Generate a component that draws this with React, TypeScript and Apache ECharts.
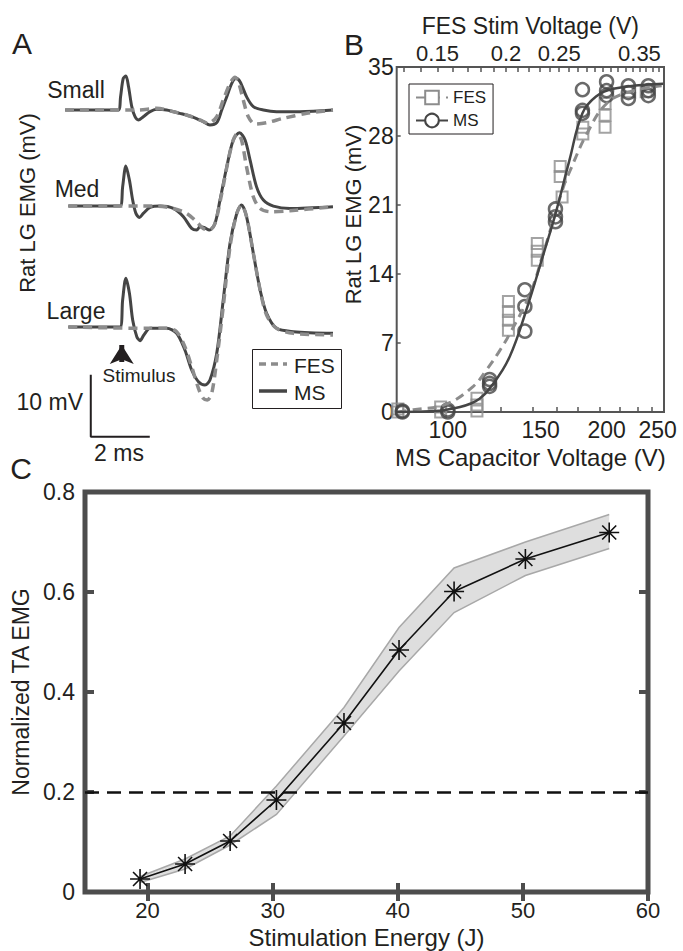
import React, { useEffect, useRef } from 'react';
import * as echarts from 'echarts';

const FONT = '"Liberation Sans", Arial, sans-serif';
const INK = '#231f20';
const MS_COLOR = '#454545';
const FES_COLOR = '#8c8c8c';
const FRAME_B = '#555555';
const FRAME_C = '#4d4d4d';

// ---------- Panel A : EMG traces, [time (ms), voltage (mV)] ----------
const SMALL_MS: number[][] = [[-2.03,0],[-0.23,0],[-0.15,2.15],[-0.06,5.1],[0.03,5.48],[0.12,3.76],[0.23,0.54],[0.34,-1.08],[0.45,-1.61],[0.62,-1.08],[0.85,-0.27],[1.07,0.11],[1.41,0],[1.86,-0.54],[2.32,-1.18],[2.65,-1.88],[2.88,-2.42],[3.11,-2.04],[3.28,0],[3.45,2.15],[3.62,4.3],[3.76,5.11],[3.9,4.57],[4.12,2.15],[4.35,0.54],[4.69,0],[5.14,-0.27],[5.93,-0.27],[7.05,0]];
const SMALL_FES: number[][] = [[-2.03,0],[0.45,0],[1.07,0.27],[1.64,-0.27],[2.09,-0.81],[2.54,-1.61],[2.82,-2.15],[3.11,-1.08],[3.33,1.61],[3.56,4.3],[3.73,5.27],[3.84,4.57],[4.01,1.61],[4.18,-1.08],[4.41,-2.26],[4.8,-2.04],[5.37,-1.34],[6.16,-0.54],[7.05,0]];
const MED_MS: number[][] = [[-1.92,0],[-0.17,0],[-0.08,3.1],[0.03,6.45],[0.15,4.19],[0.26,0.97],[0.37,-1.18],[0.49,-1.83],[0.62,-1.18],[0.85,-0.22],[1.19,0],[1.64,-0.38],[1.98,-1.72],[2.26,-3.6],[2.43,-3.87],[2.54,-3.33],[2.68,-3.44],[2.86,-3.87],[3.05,-2.8],[3.22,0.97],[3.45,6.34],[3.67,10.65],[3.88,11.83],[4.07,10.65],[4.24,7.42],[4.46,3.1],[4.69,0.97],[5.03,0],[5.59,-0.38],[7.05,-0.1]];
const MED_FES: number[][] = [[-1.92,0],[0.62,0],[1.07,0],[1.64,-0.38],[2.09,-1.18],[2.43,-2.53],[2.65,-3.6],[2.86,-3.87],[3.05,-2.8],[3.28,2.04],[3.5,7.42],[3.67,10.65],[3.81,11.72],[3.95,10.65],[4.12,6.34],[4.35,1.5],[4.58,-0.38],[4.92,-0.91],[5.59,-0.75],[7.05,-0.1]];
const LARGE_MS: number[][] = [[-1.92,0],[-0.17,0],[-0.08,4.35],[0.03,7.85],[0.15,5.43],[0.26,1.13],[0.4,-1.56],[0.51,-2.2],[0.64,-1.29],[0.85,-0.22],[1.41,-0.22],[1.75,-1.02],[2.03,-3.71],[2.26,-6.94],[2.49,-8.82],[2.71,-9.35],[2.88,-8.55],[3.11,-4.25],[3.33,4.35],[3.56,13.5],[3.79,18.34],[3.95,19.68],[4.12,17.8],[4.35,11.9],[4.58,5.97],[4.8,2.2],[5.14,-0.22],[5.71,-0.75],[7.05,-1.02]];
const LARGE_FES: number[][] = [[-1.92,0],[0.85,-0.22],[1.41,-0.22],[1.75,-0.75],[2.03,-3.17],[2.26,-6.4],[2.49,-9.89],[2.65,-11.5],[2.79,-11.77],[2.94,-10.7],[3.11,-5.32],[3.33,3.27],[3.56,12.95],[3.79,18.34],[3.95,19.68],[4.12,17.8],[4.35,11.9],[4.58,5.97],[4.8,1.94],[5.14,-0.22],[5.71,-1.02],[7.05,-1.29]];
const TRACE_OFFSET_SMALL = 35;
const TRACE_OFFSET_MED = 19.5;
const TRACE_OFFSET_LARGE = 0;
const SCALE_BAR_MS = 2;
const SCALE_BAR_MV = 10;
const SCALE_BAR_ORIGIN = [-1.16, -17.7];
const STIMULUS_TIME = -0.11;
const ARROW_FROM_MV = -5.65;
const ARROW_TO_MV = -2.9;

// ---------- Panel B : recruitment curves ----------
const MS_VOLTAGE = [82, 82, 100, 100, 120, 120, 120, 140, 140, 140, 160, 160, 160, 180, 180, 180, 200, 200, 200, 220, 220, 220, 240, 240, 240];
const MS_EMG = [0, 0.1, 0, 0.2, 3.3, 2.6, 2.9, 12.4, 10.7, 8.2, 20.6, 19.3, 19.8, 32.7, 30.3, 30.6, 33.5, 32.6, 32.1, 33.1, 31.8, 32.4, 33.1, 32.1, 32.6];
const FES_VOLTAGE = [0.127, 0.127, 0.152, 0.152, 0.177, 0.177, 0.177, 0.202, 0.202, 0.202, 0.202, 0.228, 0.228, 0.228, 0.251, 0.251, 0.253, 0.276, 0.276, 0.303, 0.303, 0.303, 0.336, 0.36];
const FES_EMG = [0, 0.3, 0.5, 0, 1.4, 0.7, 0.1, 11.2, 10.2, 9.3, 8.3, 17.1, 16.3, 15.4, 24.9, 23.9, 21.8, 28.2, 28.9, 31.3, 30.1, 28.9, 32.5, 32.5];
const MS_FIT_VOLTAGE = [80, 90, 100, 113, 122, 131, 141, 152, 160, 170, 180, 191, 206, 256];
const MS_FIT_EMG = [0, 0.05, 0.25, 1.1, 2.9, 5.6, 10.4, 16.1, 20.1, 25.5, 30.3, 32, 32.8, 33.3];
const FES_FIT_VOLTAGE = [0.127, 0.1356, 0.1548, 0.1743, 0.1844, 0.1936, 0.2034, 0.2212, 0.2338, 0.2543, 0.2617, 0.2805, 0.305, 0.3364, 0.3842];
const FES_FIT_EMG = [0, 0.24, 0.74, 2.6, 4.3, 6.0, 8.0, 12.0, 16.1, 22.8, 24.5, 28.2, 31.3, 32.5, 33.1];
const MS_TICK_LABELS = [100, 150, 200, 250];
const MS_MINOR_TICKS = [126, 145, 161, 176, 194, 212, 229, 244];
const FES_TICK_LABELS = [0.15, 0.2, 0.25, 0.35];
const FES_MINOR_TICKS = [0.13, 0.14, 0.15, 0.16, 0.17, 0.18, 0.19, 0.2, 0.21, 0.22, 0.23, 0.24, 0.25, 0.26, 0.27, 0.28, 0.29, 0.3, 0.31, 0.32, 0.33, 0.34, 0.35, 0.36, 0.37, 0.38];
const MS_RANGE = [80, 257];
const FES_RANGE = [0.1264, 0.388];

// ---------- Panel C : normalized TA EMG ----------
const ENERGY = [19.4, 23.0, 26.6, 30.3, 35.7, 40.1, 44.5, 50.2, 56.9];
const TA_MEAN = [0.026, 0.056, 0.102, 0.184, 0.338, 0.484, 0.601, 0.666, 0.719];
const TA_UPPER = [0.031, 0.066, 0.112, 0.212, 0.369, 0.529, 0.648, 0.7, 0.755];
const TA_LOWER = [0.019, 0.046, 0.094, 0.155, 0.312, 0.442, 0.559, 0.633, 0.687];
const THRESHOLD = 0.2;
const ENERGY_TICKS = [20, 30, 40, 50, 60];

const txt = (size: number) => ({ fontFamily: FONT, fontSize: size, color: INK });
const shift = (arr: number[][], off: number) => arr.map(([t, v]) => [t, v + off]);
const zip = (a: number[], b: number[]) => a.map((x, i) => [x, b[i]]);
const logZip = (a: number[], b: number[]) => a.map((x, i) => [Math.log10(x), b[i]]);

const STAR = 'path://M10,0L10,20M0,10L20,10M3,3L17,17M3,17L17,3';

function gtext(text: string, x: number, y: number, size: number, align = 'center', rotation = 0) {
  return {
    type: 'text', x, y, rotation, silent: true,
    style: { text, fill: INK, font: `${size}px ${FONT}`, align, verticalAlign: 'middle', textAlign: align, textVerticalAlign: 'middle' },
  };
}

function buildOption() {
  const traceLine = (name: string, data: number[][], dashed: boolean) => ({
    type: 'line', name, xAxisIndex: 0, yAxisIndex: 0, data, symbol: 'none', smooth: 0.3, silent: true,
    lineStyle: dashed ? { color: FES_COLOR, width: 3.5, type: [9, 6] } : { color: MS_COLOR, width: 3 },
    z: dashed ? 3 : 2,
  });
  const [sx, sy] = SCALE_BAR_ORIGIN;
  return {
    animation: false,
    backgroundColor: '#fff',
    grid: [
      { left: 51.25, top: 17, width: 295, height: 434, outerBoundsMode: 'none' },
      { left: 396.7, top: 67, width: 267.3, height: 345, show: true, borderColor: FRAME_B, borderWidth: 2, outerBoundsMode: 'none' },
      { left: 85, top: 492, width: 563, height: 400, show: true, borderColor: FRAME_C, borderWidth: 5, outerBoundsMode: 'none' },
    ],
    xAxis: [
      { gridIndex: 0, type: 'value', min: -2.5, max: 7.5, show: false },
      {
        gridIndex: 1, type: 'value', position: 'bottom', min: Math.log10(MS_RANGE[0]), max: Math.log10(MS_RANGE[1]),
        axisLine: { show: false }, splitLine: { show: false },
        axisTick: { inside: true, length: 5, lineStyle: { color: FRAME_B, width: 1.5 }, customValues: MS_MINOR_TICKS.map((v) => Math.log10(v)) },
        axisLabel: { customValues: MS_TICK_LABELS.map((v) => Math.log10(v)), formatter: (v: number) => String(Math.round(Math.pow(10, v))), margin: 6, ...txt(23) },
        name: 'MS Capacitor Voltage (V)', nameLocation: 'middle', nameGap: 33, nameTextStyle: txt(24),
      },
      {
        gridIndex: 1, type: 'value', position: 'top', min: Math.log10(FES_RANGE[0]), max: Math.log10(FES_RANGE[1]),
        axisLine: { show: false }, splitLine: { show: false },
        axisTick: { inside: true, length: 5, lineStyle: { color: FRAME_B, width: 1.5 }, customValues: FES_MINOR_TICKS.map((v) => Math.log10(v)) },
        axisLabel: { customValues: FES_TICK_LABELS.map((v) => Math.log10(v)), formatter: (v: number) => String(Math.round(Math.pow(10, v) * 100) / 100), margin: 3, ...txt(22) },
        name: 'FES Stim Voltage (V)', nameLocation: 'middle', nameGap: 30, nameTextStyle: txt(23),
      },
      {
        gridIndex: 2, type: 'value', position: 'bottom', min: 15, max: 60,
        axisLine: { show: false }, splitLine: { show: false },
        axisTick: { inside: true, length: 9, lineStyle: { color: FRAME_C, width: 4 }, customValues: ENERGY_TICKS },
        axisLabel: { customValues: ENERGY_TICKS, margin: 7, ...txt(22) },
        name: 'Stimulation Energy (J)', nameLocation: 'middle', nameGap: 33, nameTextStyle: txt(24),
      },
      {
        gridIndex: 2, type: 'value', position: 'top', min: 15, max: 60,
        axisLine: { show: false }, splitLine: { show: false }, axisLabel: { show: false },
        axisTick: { inside: true, length: 9, lineStyle: { color: FRAME_C, width: 4 }, customValues: ENERGY_TICKS },
      },
    ],
    yAxis: [
      { gridIndex: 0, type: 'value', min: -20, max: 50, show: false },
      {
        gridIndex: 1, type: 'value', min: 0, max: 35, interval: 7,
        axisLine: { show: false }, splitLine: { show: false },
        axisTick: { inside: true, length: 4, lineStyle: { color: FRAME_B, width: 1.5 } },
        axisLabel: { margin: 3, ...txt(23) },
        name: 'Rat LG EMG (mV)', nameLocation: 'middle', nameGap: 19, nameTextStyle: { ...txt(22), padding: [0, 0, 0, 50] },
      },
      {
        gridIndex: 2, type: 'value', min: 0, max: 0.8, interval: 0.2,
        axisLine: { show: false }, splitLine: { show: false },
        axisTick: { inside: true, length: 9, lineStyle: { color: FRAME_C, width: 4 } },
        axisLabel: { margin: 10, ...txt(23) },
        name: 'Normalized TA EMG', nameLocation: 'middle', nameGap: 47, nameTextStyle: txt(23),
      },
      {
        gridIndex: 2, type: 'value', position: 'right', min: 0, max: 0.8, interval: 0.2,
        axisLine: { show: false }, splitLine: { show: false }, axisLabel: { show: false },
        axisTick: { inside: true, length: 9, lineStyle: { color: FRAME_C, width: 4 } },
      },
    ],
    legend: {
      data: ['FES', 'MS'], left: 409, top: 84, orient: 'vertical', itemWidth: 32, itemHeight: 17, itemGap: 6,
      padding: [5, 7, 5, 6], borderColor: INK, borderWidth: 1, backgroundColor: '#fff', selectedMode: false,
      textStyle: txt(17),
    },
    series: [
      traceLine('MS small', shift(SMALL_MS, TRACE_OFFSET_SMALL), false),
      traceLine('MS med', shift(MED_MS, TRACE_OFFSET_MED), false),
      traceLine('MS large', shift(LARGE_MS, TRACE_OFFSET_LARGE), false),
      traceLine('FES small', shift(SMALL_FES, TRACE_OFFSET_SMALL), true),
      traceLine('FES med', shift(MED_FES, TRACE_OFFSET_MED), true),
      traceLine('FES large', shift(LARGE_FES, TRACE_OFFSET_LARGE), true),
      {
        type: 'line', name: 'scale bar', xAxisIndex: 0, yAxisIndex: 0, symbol: 'none', silent: true,
        data: [[sx, sy + SCALE_BAR_MV], [sx, sy], [sx + SCALE_BAR_MS, sy]],
        lineStyle: { color: INK, width: 2 },
      },
      {
        type: 'line', name: 'stimulus', xAxisIndex: 0, yAxisIndex: 0, silent: true,
        data: [
          { value: [STIMULUS_TIME, ARROW_FROM_MV], symbol: 'none' },
          { value: [STIMULUS_TIME, ARROW_TO_MV], symbol: 'arrow', symbolSize: [18, 19] },
        ],
        lineStyle: { color: INK, width: 5 }, itemStyle: { color: INK },
      },
      // Panel B
      {
        type: 'line', name: 'FES', xAxisIndex: 2, yAxisIndex: 1, data: logZip(FES_FIT_VOLTAGE, FES_FIT_EMG),
        smooth: 0.4, symbol: 'emptyRect', showSymbol: false, silent: true,
        lineStyle: { color: FES_COLOR, width: 3, type: [9, 6] }, itemStyle: { color: FES_COLOR },
      },
      {
        type: 'scatter', name: 'FES points', xAxisIndex: 2, yAxisIndex: 1, data: logZip(FES_VOLTAGE, FES_EMG),
        symbol: 'rect', symbolSize: 11, clip: false, silent: true,
        itemStyle: { color: 'rgba(255,255,255,0)', borderColor: FES_COLOR, borderWidth: 2 },
      },
      {
        type: 'line', name: 'MS', xAxisIndex: 1, yAxisIndex: 1, data: logZip(MS_FIT_VOLTAGE, MS_FIT_EMG),
        smooth: 0.4, symbol: 'emptyCircle', showSymbol: false, silent: true,
        lineStyle: { color: MS_COLOR, width: 2.5 }, itemStyle: { color: MS_COLOR },
      },
      {
        type: 'scatter', name: 'MS points', xAxisIndex: 1, yAxisIndex: 1, data: logZip(MS_VOLTAGE, MS_EMG),
        symbol: 'circle', symbolSize: 13, clip: false, silent: true,
        itemStyle: { color: 'rgba(255,255,255,0)', borderColor: MS_COLOR, borderWidth: 2.5 },
      },
      // Panel C
      {
        type: 'custom', name: 'band', xAxisIndex: 3, yAxisIndex: 2, data: zip(ENERGY, TA_MEAN), silent: true, z: 1,
        renderItem: (params: any, api: any) => {
          if (params.dataIndex !== 0) return null;
          const up = ENERGY.map((e, i) => api.coord([e, TA_UPPER[i]]));
          const lo = ENERGY.map((e, i) => api.coord([e, TA_LOWER[i]]));
          return {
            type: 'group',
            children: [
              { type: 'polygon', shape: { points: [...up, ...lo.slice().reverse()] }, style: { fill: '#dedede', stroke: 'none' } },
              { type: 'polyline', shape: { points: up }, style: { fill: 'none', stroke: '#a8a8a8', lineWidth: 1.5 } },
              { type: 'polyline', shape: { points: lo }, style: { fill: 'none', stroke: '#a8a8a8', lineWidth: 1.5 } },
            ],
          };
        },
      },
      {
        type: 'line', name: 'mean', xAxisIndex: 3, yAxisIndex: 2, data: zip(ENERGY, TA_MEAN),
        symbol: STAR, symbolSize: 20, silent: true, z: 4,
        lineStyle: { color: '#111', width: 1.6 },
        itemStyle: { color: 'rgba(0,0,0,0)', borderColor: '#111', borderWidth: 1.6 },
        markLine: {
          silent: true, symbol: ['none', 'none'], label: { show: false },
          lineStyle: { color: '#111', width: 2.5, type: [14, 8] },
          data: [{ yAxis: THRESHOLD }],
        },
      },
    ],
    graphic: [
      gtext('A', 22, 43, 30),
      gtext('B', 354, 44, 30),
      gtext('C', 21, 468, 30),
      gtext('Small', 76, 90, 23),
      gtext('Med', 77, 189, 23),
      gtext('Large', 76, 311, 23),
      gtext('Stimulus', 139, 375, 19),
      gtext('10 mV', 83, 402, 23, 'right'),
      gtext('2 ms', 119, 453, 23),
      gtext('Rat LG EMG (mV)', 27, 203, 22, 'center', Math.PI / 2),
      { type: 'rect', shape: { x: 252.5, y: 349.5, width: 89, height: 59 }, style: { fill: '#fff', stroke: INK, lineWidth: 1 }, silent: true, z: 10 },
      { type: 'line', shape: { x1: 259, y1: 364, x2: 287, y2: 364 }, style: { stroke: FES_COLOR, lineWidth: 3.5, lineDash: [7, 5] }, silent: true, z: 11 },
      { type: 'line', shape: { x1: 259, y1: 391, x2: 287, y2: 391 }, style: { stroke: MS_COLOR, lineWidth: 3.5 }, silent: true, z: 11 },
      { ...gtext('FES', 294, 365, 21, 'left'), z: 11 },
      { ...gtext('MS', 294, 392, 21, 'left'), z: 11 },
    ],
  };
}

export default function App() {
  const ref = useRef<HTMLDivElement>(null);
  useEffect(() => {
    if (!ref.current) return;
    const chart = echarts.init(ref.current, null, { renderer: 'svg', width: 683, height: 951 });
    chart.setOption(buildOption() as any);
    return () => chart.dispose();
  }, []);
  return (
    <div
      ref={ref}
      style={{ position: 'fixed', left: 0, top: 0, width: 683, height: 951, background: '#fff' }}
    />
  );
}
